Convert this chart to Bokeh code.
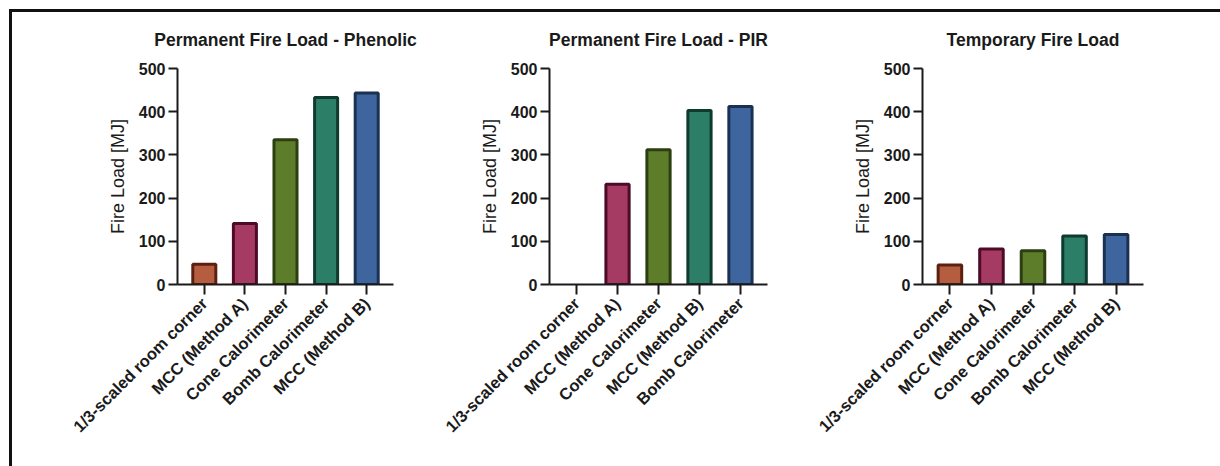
import math
from bokeh.plotting import figure
from bokeh.models import FactorRange, Range1d, FixedTicker, ColumnDataSource, Div
from bokeh.layouts import row, column
from bokeh.embed import file_html
from bokeh.resources import INLINE

# ---- data ----
titles = ["Permanent Fire Load - Phenolic", "Permanent Fire Load - PIR", "Temporary Fire Load"]
cats_phenolic = ["1/3-scaled room corner", "MCC (Method A)", "Cone Calorimeter", "Bomb Calorimeter", "MCC (Method B)"]
vals_phenolic = [47, 141, 335, 433, 443]
cats_pir = ["1/3-scaled room corner", "MCC (Method A)", "Cone Calorimeter", "MCC (Method B)", "Bomb Calorimeter"]
vals_pir = [0, 232, 312, 403, 412]
cats_temp = ["1/3-scaled room corner", "MCC (Method A)", "Cone Calorimeter", "Bomb Calorimeter", "MCC (Method B)"]
vals_temp = [45, 82, 78, 112, 116]
y_ticks = [0, 100, 200, 300, 400, 500]
y_label = "Fire Load [MJ]"

fill_colors = ["#b45e3f", "#a53a62", "#5e7d2b", "#2c7e66", "#3f659e"]
line_colors = ["#5c2010", "#4d0b28", "#2c3f12", "#0f3b2e", "#1b3152"]

FONT = "Liberation Sans"
INK = "#1a1a1a"


def panel(title, cats, vals, left, right, fw):
    p = figure(
        x_range=FactorRange(factors=cats, range_padding=0.064),
        y_range=Range1d(0, 500),
        frame_width=fw, frame_height=216,
        min_border_left=left, min_border_right=right,
        min_border_top=56, min_border_bottom=182,
        output_backend="svg", toolbar_location=None, title=title,
        margin=0,
    )
    src = ColumnDataSource(dict(
        cat=cats, val=vals, fill=fill_colors, line=line_colors,
        la=[0 if v == 0 else 1 for v in vals],
    ))
    p.vbar(x="cat", top="val", width=0.567, source=src, fill_color="fill",
           line_color="line", line_width=3, line_alpha="la")

    p.title.text_font = FONT
    p.title.text_font_size = "17.5px"
    p.title.text_font_style = "bold"
    p.title.text_color = INK
    p.title.align = "center"
    p.title.vertical_align = "top"
    p.title.standoff = 34

    p.xgrid.visible = False
    p.ygrid.visible = False
    p.outline_line_color = None
    p.background_fill_color = "white"
    p.border_fill_color = "white"

    for ax in (p.xaxis[0], p.yaxis[0]):
        ax.axis_line_width = 2
        ax.axis_line_color = INK
        ax.major_tick_line_width = 2
        ax.major_tick_line_color = INK
        ax.major_tick_in = 0
        ax.minor_tick_line_color = None
        ax.major_label_text_font = FONT
        ax.major_label_text_font_style = "bold"
        ax.major_label_text_color = INK

    ya = p.yaxis[0]
    ya.ticker = FixedTicker(ticks=y_ticks)
    ya.major_tick_out = 9
    ya.major_label_text_font_size = "16px"
    ya.major_label_standoff = 3
    ya.axis_label = y_label
    ya.axis_label_text_font = FONT
    ya.axis_label_text_font_size = "18px"
    ya.axis_label_text_font_style = "normal"
    ya.axis_label_text_color = INK
    ya.axis_label_standoff = 8

    xa = p.xaxis[0]
    xa.major_tick_out = 10
    xa.major_label_orientation = math.pi / 4
    xa.major_label_text_font_size = "16.5px"
    xa.major_label_standoff = 6
    return p


p1 = panel(titles[0], cats_phenolic, vals_phenolic, 165, 37, 216)
p2 = panel(titles[1], cats_pir, vals_pir, 119, 33, 218)
p3 = panel(titles[2], cats_temp, vals_temp, 122, 77, 221)

top_rule = Div(text="", width=1211, height=3, margin=(9, 0, 0, 9),
               styles={"background-color": "#111111"})
left_rule = Div(text="", width=3, height=454, margin=(0, 0, 0, 9),
                styles={"background-color": "#111111"})

layout = column(top_rule, row(left_rule, p1, p2, p3, margin=0, spacing=0),
                margin=0, spacing=0)

open("out.html", "w").write(file_html(layout, INLINE))
